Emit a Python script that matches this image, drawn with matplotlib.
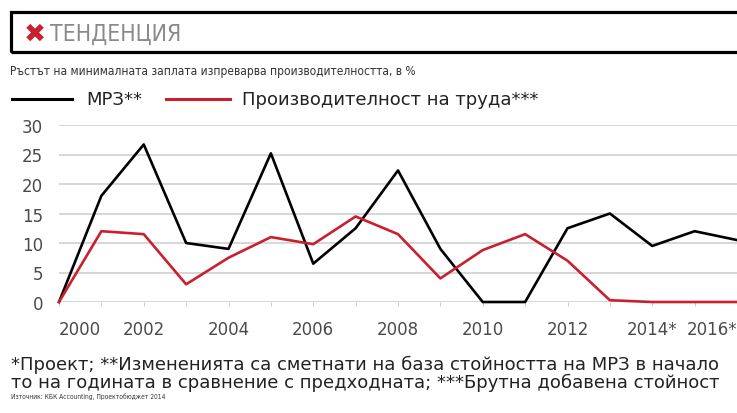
import matplotlib
matplotlib.use("Agg")
import matplotlib.pyplot as plt
from matplotlib.patches import Rectangle
from matplotlib.lines import Line2D

# ===============================
# DATA
# ===============================

years = list(range(2000, 2017))
mrz = [0, 18, 26.7, 10, 9, 25.2, 6.5, 12.5, 22.3, 9, 0, 0, 12.5, 15, 9.5, 12, 10.5]
productivity = [0, 12, 11.5, 3, 7.5, 11, 9.8, 14.5, 11.5, 4, 8.8, 11.5, 7, 0.3, 0, 0, 0]
tick_years = [2000, 2002, 2004, 2006, 2008, 2010, 2012, 2014, 2016]
tick_labels = ["2000", "2002", "2004", "2006", "2008", "2010", "2012", "2014*", "2016*"]
y_ticks = [0, 5, 10, 15, 20, 25, 30]

title = "ТЕНДЕНЦИЯ"
subtitle = "Ръстът на минималната заплата изпреварва производителността, в %"
label_mrz = "МРЗ**"
label_prod = "Производителност на труда***"
note1 = "*Проект; **Измененията са сметнати на база стойността на МРЗ в начало"
note2 = "то на годината в сравнение с предходната; ***Брутна добавена стойност"
source = "Източник: КБК Accounting, Проектобюджет 2014"

plt.rcParams["font.family"] = ["DejaVu Sans"]

RED = "#c8202f"
W, H = 737, 414


def fx(px):
    return px / W


def fy(py):
    return 1 - py / H


fig = plt.figure(figsize=(7.37, 4.14), dpi=100)

# ===============================
# TITLE BOX
# ===============================

fig.patches.append(Rectangle((fx(11), fy(53)), fx(740), 40 / H,
                             transform=fig.transFigure, fill=False,
                             edgecolor="black", linewidth=2.3))
fig.text(fx(24), fy(35), "✖", color=RED, fontsize=19, fontweight="bold",
         va="center", ha="left")
fig.text(fx(50), fy(34), title, color="#8a8a8a", fontsize=16.5,
         fontstretch="condensed", va="center", ha="left")
fig.text(fx(10), fy(72), subtitle, color="#333333", fontsize=8.6,
         fontstretch="condensed", va="center", ha="left")

# legend made by hand
fig.lines.append(Line2D([fx(12), fx(72)], [fy(100)] * 2,
                        transform=fig.transFigure, color="black", linewidth=2.2))
fig.text(fx(86), fy(100), label_mrz, fontsize=13, color="#222222",
         va="center", ha="left")
fig.lines.append(Line2D([fx(166), fx(230)], [fy(100)] * 2,
                        transform=fig.transFigure, color=RED, linewidth=2.2))
fig.text(fx(242), fy(100), label_prod, fontsize=13, color="#222222",
         va="center", ha="left")

# ===============================
# CHART
# ===============================

ax = fig.add_axes([fx(59), fy(303), fx(678), 177 / H])
ax.plot(years, mrz, color="black", linewidth=1.9, clip_on=False, zorder=3)
ax.plot(years, productivity, color=RED, linewidth=1.9, clip_on=False, zorder=3)

ax.set_xlim(2000, 2016)
ax.set_ylim(0, 30)
ax.set_yticks(y_ticks)
ax.yaxis.grid(True, color="#d0d0d0", linewidth=1.2)
ax.set_axisbelow(True)
for s in ax.spines.values():
    s.set_visible(False)
ax.tick_params(axis="y", length=0, pad=11.5, labelsize=12, labelcolor="#4a4a4a")
ax.set_xticks(years)
ax.set_xticklabels([tick_labels[tick_years.index(y)] if y in tick_years else ""
                    for y in years])
ax.tick_params(axis="x", length=3, color="#cccccc", pad=10, labelsize=12,
               labelcolor="#4a4a4a")
ax.get_xticklabels()[0].set_horizontalalignment("left")
ax.get_xticklabels()[-1].set_horizontalalignment("right")

# ===============================
# NOTES
# ===============================

fig.text(fx(11), fy(365), note1, fontsize=13, color="#222222", va="center", ha="left")
fig.text(fx(11), fy(383), note2, fontsize=13, color="#222222", va="center", ha="left")
fig.text(fx(11), fy(397), source, fontsize=4.8, fontstretch="condensed",
         va="center", ha="left", color="#333333")

fig.savefig("out.png", dpi=100)
